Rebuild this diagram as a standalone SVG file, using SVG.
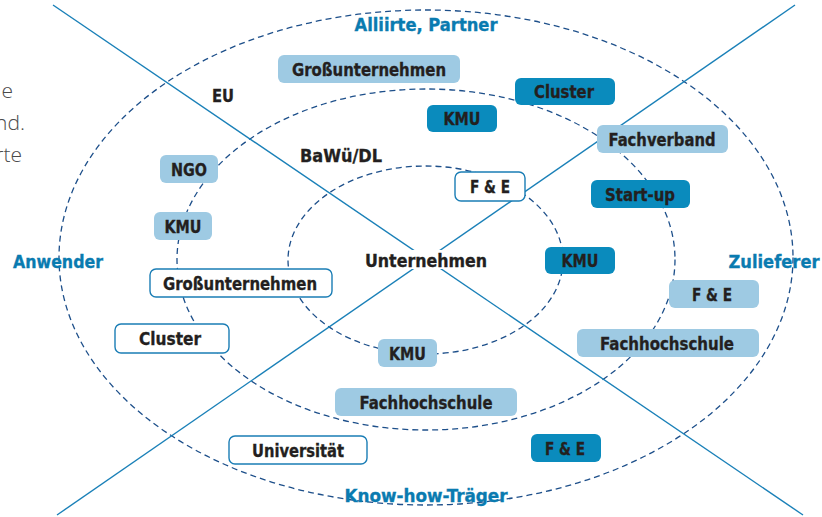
<svg xmlns="http://www.w3.org/2000/svg" width="822" height="517" viewBox="0 0 822 517">
<style>
.ring{fill:none;stroke:#1d4f8a;stroke-width:1.3;stroke-dasharray:6 4}
.axis{stroke:#1a80b8;stroke-width:1.4;fill:none}
.lt{fill:#9ecae3}
.dk{fill:#0a8bbd}
.wt{fill:#ffffff;stroke:#1a7db5;stroke-width:1.4}
.t{font-family:"DejaVu Sans Condensed","DejaVu Sans",sans-serif;font-weight:bold;font-size:17px;fill:#231f20;stroke:#231f20;stroke-width:0.3;text-anchor:middle}
.b{font-family:"DejaVu Sans Condensed","DejaVu Sans",sans-serif;font-weight:bold;font-size:17px;fill:#0a7bb0;stroke:#0a7bb0;stroke-width:0.3;text-anchor:middle}
.frag{font-family:"Open Sans","Noto Sans",sans-serif;font-weight:300;font-size:21px;fill:#4a4a4a;text-anchor:end}
</style>
<rect width="822" height="517" fill="#ffffff"/>
<g id="fragments">
<text class="frag" x="13" y="98">e</text>
<text class="frag" x="25" y="130">nd.</text>
<text class="frag" x="22" y="162">rte</text>
</g>
<g id="connectors">
<ellipse class="ring" cx="426" cy="257.5" rx="367" ry="247.5"/>
<ellipse class="ring" cx="426" cy="259.5" rx="249" ry="170.5"/>
<ellipse class="ring" cx="425.5" cy="260" rx="137.5" ry="94"/>
<line class="axis" x1="53" y1="5" x2="803" y2="515"/>
<line class="axis" x1="795" y1="5" x2="57" y2="515"/>
</g>
<g id="sectors">
<text class="b" x="426" y="31" textLength="143" lengthAdjust="spacingAndGlyphs">Alliirte, Partner</text>
<text class="b" x="58" y="268" textLength="90" lengthAdjust="spacingAndGlyphs">Anwender</text>
<text class="b" x="774" y="268" textLength="91" lengthAdjust="spacingAndGlyphs">Zulieferer</text>
<text class="b" x="426" y="502" textLength="163" lengthAdjust="spacingAndGlyphs">Know-how-Träger</text>
</g>
<g id="levels">
<text class="t" x="223" y="102" textLength="22" lengthAdjust="spacingAndGlyphs">EU</text>
<text class="t" x="341" y="162" textLength="82" lengthAdjust="spacingAndGlyphs">BaWü/DL</text>
</g>
<g id="center">
<rect x="362" y="250" width="128" height="19" fill="#ffffff"/>
<text class="t" x="426" y="267" textLength="122" lengthAdjust="spacingAndGlyphs">Unternehmen</text>
</g>
<g id="n1"><rect class="lt" x="278" y="55" width="182" height="28" rx="6"/><text class="t" x="369" y="75.5" textLength="154" lengthAdjust="spacingAndGlyphs">Großunternehmen</text></g>
<g id="n2"><rect class="dk" x="515" y="78" width="100" height="27" rx="6"/><text class="t" x="564" y="98" textLength="60" lengthAdjust="spacingAndGlyphs">Cluster</text></g>
<g id="n3"><rect class="dk" x="427" y="105" width="70" height="27" rx="6"/><text class="t" x="462" y="125" textLength="37" lengthAdjust="spacingAndGlyphs">KMU</text></g>
<g id="n4"><rect class="lt" x="597" y="125" width="131" height="28" rx="6"/><text class="t" x="662" y="145.5" textLength="107" lengthAdjust="spacingAndGlyphs">Fachverband</text></g>
<g id="n5"><rect class="wt" x="455" y="172" width="70" height="29" rx="6"/><text class="t" x="490" y="193" textLength="40" lengthAdjust="spacingAndGlyphs">F &amp; E</text></g>
<g id="n6"><rect class="dk" x="591" y="180" width="99" height="28" rx="6"/><text class="t" x="640" y="200.5" textLength="70" lengthAdjust="spacingAndGlyphs">Start-up</text></g>
<g id="n7"><rect class="dk" x="545" y="247" width="70" height="27" rx="6"/><text class="t" x="580" y="267" textLength="37" lengthAdjust="spacingAndGlyphs">KMU</text></g>
<g id="n8"><rect class="lt" x="160" y="155" width="58" height="28" rx="6"/><text class="t" x="189" y="175.5" textLength="36" lengthAdjust="spacingAndGlyphs">NGO</text></g>
<g id="n9"><rect class="lt" x="154" y="212" width="58" height="28" rx="6"/><text class="t" x="183" y="232.5" textLength="37" lengthAdjust="spacingAndGlyphs">KMU</text></g>
<g id="n10"><rect class="wt" x="150" y="269" width="182" height="28" rx="6"/><text class="t" x="240" y="289.5" textLength="154" lengthAdjust="spacingAndGlyphs">Großunternehmen</text></g>
<g id="n11"><rect class="wt" x="115" y="324" width="114" height="29" rx="6"/><text class="t" x="170" y="345" textLength="62" lengthAdjust="spacingAndGlyphs">Cluster</text></g>
<g id="n12"><rect class="lt" x="378" y="339" width="59" height="28" rx="6"/><text class="t" x="407.5" y="359.5" textLength="37" lengthAdjust="spacingAndGlyphs">KMU</text></g>
<g id="n13"><rect class="lt" x="335" y="388" width="182" height="28" rx="6"/><text class="t" x="426" y="408.5" textLength="133" lengthAdjust="spacingAndGlyphs">Fachhochschule</text></g>
<g id="n14"><rect class="wt" x="229" y="436" width="138" height="28" rx="6"/><text class="t" x="298" y="456.5" textLength="92" lengthAdjust="spacingAndGlyphs">Universität</text></g>
<g id="n15"><rect class="dk" x="531" y="434" width="70" height="28" rx="6"/><text class="t" x="565" y="454.5" textLength="40" lengthAdjust="spacingAndGlyphs">F &amp; E</text></g>
<g id="n16"><rect class="lt" x="669" y="280" width="90" height="28" rx="6"/><text class="t" x="712" y="300.5" textLength="40" lengthAdjust="spacingAndGlyphs">F &amp; E</text></g>
<g id="n17"><rect class="lt" x="577" y="329" width="182" height="28" rx="6"/><text class="t" x="667" y="349.5" textLength="134" lengthAdjust="spacingAndGlyphs">Fachhochschule</text></g>
</svg>
